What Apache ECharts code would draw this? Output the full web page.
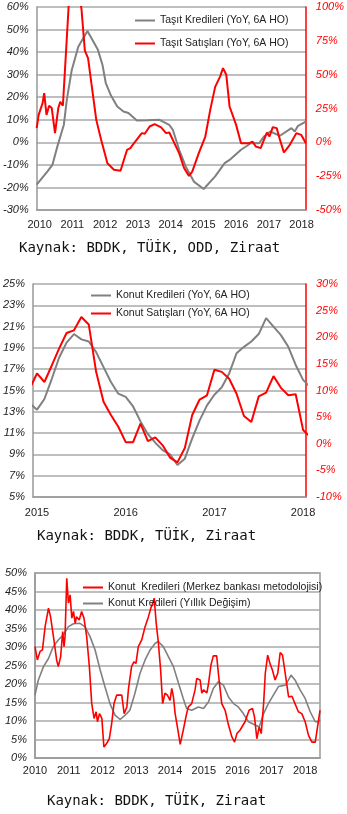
<!DOCTYPE html>
<html><head><meta charset="utf-8">
<script src="https://cdn.jsdelivr.net/npm/echarts@6/dist/echarts.min.js"></script>
<style>html,body{margin:0;padding:0;background:#fff}#c{width:347px;height:814px}</style>
</head><body><div id="c"></div><script>
// ---------- Chart 1: Taşıt (decimal year, %) ----------
const c1LoanName = 'Taşıt Kredileri (YoY, 6A HO)';
const c1SalesName = 'Taşıt Satışları (YoY, 6A HO)';
const c1Loans = [[2009.91,-18.8],[2010.24,-12.9],[2010.39,-10.0],[2010.54,-1.9],[2010.74,7.8],[2010.83,18.8],[2010.98,32.0],[2011.18,42.4],[2011.46,49.4],[2011.78,41.0],[2011.92,34.3],[2012.02,26.3],[2012.17,21.0],[2012.37,15.9],[2012.56,13.7],[2012.71,13.0],[2012.97,9.7],[2013.3,9.8],[2013.66,10.0],[2013.96,7.7],[2014.07,5.5],[2014.26,-3.3],[2014.46,-10.7],[2014.71,-17.4],[2015.01,-20.7],[2015.36,-15.1],[2015.65,-9.2],[2015.80,-7.8],[2016.15,-3.3],[2016.45,-0.4],[2016.70,-0.4],[2016.85,2.6],[2017.04,4.8],[2017.34,2.9],[2017.69,6.3],[2017.79,4.8],[2017.89,7.3],[2018.13,9.2]];
const c1Sales = [[2009.91,10.5],[2009.97,20.3],[2010.09,29.0],[2010.14,36.4],[2010.21,20.3],[2010.29,27.0],[2010.37,25.3],[2010.47,6.8],[2010.57,25.3],[2010.63,30.0],[2010.71,27.0],[2010.78,56.0],[2010.88,98],[2010.95,125],[2011.05,140],[2011.15,120],[2011.28,98],[2011.38,68],[2011.48,62],[2011.58,43.7],[2011.73,16.6],[2011.88,1.8],[2012.07,-15.4],[2012.27,-20.3],[2012.47,-21.0],[2012.67,-5.5],[2012.77,-4.3],[2012.92,0.6],[2013.12,6.8],[2013.21,6.3],[2013.36,11.7],[2013.51,13.4],[2013.71,11.0],[2013.86,6.8],[2013.96,7.3],[2014.11,-0.4],[2014.26,-8],[2014.41,-19],[2014.56,-24.8],[2014.66,-21.6],[2014.86,-8],[2015.06,4.3],[2015.21,24],[2015.36,41],[2015.51,48.6],[2015.60,54.8],[2015.70,49.9],[2015.80,26.5],[2016.00,12.9],[2016.15,-0.6],[2016.40,-0.6],[2016.50,0.6],[2016.60,-3.1],[2016.75,-4.3],[2016.85,1.8],[2016.94,7.2],[2017.02,4.3],[2017.12,11.2],[2017.24,10.5],[2017.34,1.8],[2017.46,-7.5],[2017.64,-1.8],[2017.84,6.8],[2017.99,5.5],[2018.04,6.8],[2018.13,-0.6]];
const c1Years = [2010,2011,2012,2013,2014,2015,2016,2017,2018];

// ---------- Chart 2: Konut (monthly) ----------
const c2LoanName = 'Konut Kredileri (YoY, 6A HO)';
const c2SalesName = 'Konut Satışları (YoY, 6A HO)';
const c2Months = ['2014-12','2015-01','2015-02','2015-03','2015-04','2015-05','2015-06','2015-07','2015-08','2015-09','2015-10','2015-11','2015-12','2016-01','2016-02','2016-03','2016-04','2016-05','2016-06','2016-07','2016-08','2016-09','2016-10','2016-11','2016-12','2017-01','2017-02','2017-03','2017-04','2017-05','2017-06','2017-07','2017-08','2017-09','2017-10','2017-11','2017-12','2018-01','2018-02'];
const c2Loans = [13.8,13.2,14.2,16.1,18.1,19.5,20.3,19.8,19.6,18.6,17.2,15.8,14.7,14.4,13.5,12.1,10.9,10.1,9.4,9.0,8.0,8.6,10.5,12.2,13.6,14.6,15.3,16.6,18.5,19.1,19.6,20.3,21.8,21.0,20.2,19.1,17.4,16.0,15.3];
const c2Sales = [10.3,13.2,11.6,14.7,17.9,20.8,21.3,23.8,22.4,13.5,7.9,5.4,3.2,0.3,0.3,3.8,0.5,1.2,-0.3,-2.6,-3.5,-0.8,5.4,8.3,9.1,13.9,13.5,12.2,9.4,5.2,4.1,8.9,9.6,12.7,10.5,9.1,9.3,2.6,1.3];
const c2Years = [2015,2016,2017,2018];

// ---------- Chart 3: Konut kredileri (decimal year, %) ----------
const c3CbName = 'Konut  Kredileri (Merkez bankası metodolojisi)';
const c3YoyName = 'Konut Kredileri (Yıllık Değişim)';
const c3Cb = [[2010.00,30.1],[2010.07,26.5],[2010.15,28.8],[2010.22,29.2],[2010.30,35.5],[2010.40,40.5],[2010.46,38.2],[2010.56,31.9],[2010.64,26.5],[2010.69,24.7],[2010.76,27.4],[2010.82,34.2],[2010.86,30.1],[2010.89,32.8],[2010.94,48.6],[2010.99,41.9],[2011.04,44.1],[2011.09,37.8],[2011.14,39.6],[2011.19,36.4],[2011.23,38.2],[2011.31,37.3],[2011.38,39.6],[2011.45,37.8],[2011.53,32.8],[2011.61,24.7],[2011.68,14.7],[2011.75,10.7],[2011.81,12.5],[2011.85,9.8],[2011.91,12.0],[2011.98,10.7],[2012.04,3.0],[2012.12,3.9],[2012.20,5.2],[2012.27,9.3],[2012.34,14.7],[2012.42,17.0],[2012.57,17.0],[2012.64,12.0],[2012.72,13.8],[2012.77,18.8],[2012.81,18.4],[2012.86,24.7],[2012.93,26.0],[2012.99,25.6],[2013.06,30.1],[2013.16,31.9],[2013.26,35.5],[2013.36,38.2],[2013.43,40.5],[2013.49,41.9],[2013.53,43.2],[2013.59,36.4],[2013.65,31.5],[2013.72,23.8],[2013.78,14.7],[2013.85,17.5],[2013.92,17.0],[2014.00,15.6],[2014.05,18.8],[2014.10,16.5],[2014.15,12.0],[2014.25,6.6],[2014.30,3.7],[2014.39,7.5],[2014.49,12.0],[2014.54,13.8],[2014.64,14.7],[2014.74,18.4],[2014.79,21.5],[2014.89,21.1],[2014.94,17.5],[2014.99,18.4],[2015.09,17.6],[2015.14,20.2],[2015.21,25.1],[2015.28,27.6],[2015.38,27.6],[2015.43,22.9],[2015.53,14.7],[2015.63,12.9],[2015.73,8.9],[2015.83,5.7],[2015.91,4.3],[2015.98,6.6],[2016.07,7.5],[2016.22,9.8],[2016.34,12.9],[2016.44,13.4],[2016.50,11.1],[2016.57,5.2],[2016.64,8.4],[2016.70,6.6],[2016.77,14.7],[2016.82,22.9],[2016.89,27.8],[2016.96,25.5],[2017.03,23.8],[2017.11,21.1],[2017.19,22.9],[2017.26,28.5],[2017.33,27.8],[2017.41,22.9],[2017.51,16.5],[2017.61,16.7],[2017.70,14.7],[2017.80,12.5],[2017.90,12.0],[2018.00,9.8],[2018.10,6.1],[2018.20,4.3],[2018.30,4.3],[2018.35,4.1],[2018.44,12.9]];
const c3Yoy = [[2010.00,17.0],[2010.10,21.1],[2010.25,24.7],[2010.40,26.9],[2010.54,30.1],[2010.69,31.9],[2010.84,33.3],[2010.99,35.5],[2011.14,36.3],[2011.33,36.4],[2011.48,35.5],[2011.63,32.8],[2011.78,29.2],[2011.93,23.8],[2012.07,19.3],[2012.22,14.7],[2012.37,11.6],[2012.52,10.4],[2012.67,11.6],[2012.81,12.9],[2012.96,17.5],[2013.11,22.9],[2013.26,26.5],[2013.41,29.2],[2013.56,31.0],[2013.65,31.5],[2013.80,30.1],[2013.95,27.4],[2014.10,24.7],[2014.25,20.2],[2014.39,16.1],[2014.49,13.4],[2014.64,12.9],[2014.84,13.8],[2014.99,13.4],[2015.14,15.2],[2015.28,18.8],[2015.43,20.6],[2015.58,19.7],[2015.73,16.5],[2015.88,14.7],[2016.02,13.8],[2016.17,12.0],[2016.32,9.8],[2016.52,8.9],[2016.64,8.4],[2016.77,12.0],[2016.91,14.7],[2017.06,17.0],[2017.21,19.3],[2017.41,19.7],[2017.51,21.1],[2017.58,22.4],[2017.70,21.1],[2017.85,18.4],[2018.00,16.1],[2018.15,12.5],[2018.30,9.8],[2018.40,9.8],[2018.44,10.3]];
const c3Years = [2010,2011,2012,2013,2014,2015,2016,2017,2018];

const sourceTexts = ['Kaynak: BDDK, TÜİK, ODD, Ziraat','Kaynak: BDDK, TÜİK, Ziraat','Kaynak: BDDK, TÜİK, Ziraat'];

// ---------- helpers ----------
const FONT = '"Liberation Sans", Arial, sans-serif';
const GRIDC = '#a9a9a9';
const GRAY = '#808080';
const RED = '#ff0000';
const ym = s => { const p = s.split('-').map(Number); return p[0] + (p[1]-1)/12; };
const c2LoansXY = c2Months.map((m,i)=>[ym(m), c2Loans[i]]);
const c2SalesXY = c2Months.map((m,i)=>[ym(m), c2Sales[i]]);

function xAx(gi, min, max, years, margin){
  return {type:'value', gridIndex:gi, min:min, max:max,
    axisLine:{show:true, onZero:false, lineStyle:{color:'#999', width:1.5}},
    axisTick:{show:false}, splitLine:{show:false},
    axisLabel:{customValues:years, formatter:v=>String(Math.round(v)), color:'#222', fontFamily:FONT, fontSize:11, margin:margin}};
}
function yAx(gi, min, max, interval, pos, color, split, lineColor){
  return {type:'value', gridIndex:gi, position:pos, min:min, max:max, interval:interval,
    axisLine:{show:true, lineStyle:{color:lineColor, width:1.5}}, axisTick:{show:false},
    splitLine:{show:split, lineStyle:{color:GRIDC, width:1.5}},
    axisLabel:{formatter:v=>v+'%', color:color, fontFamily:FONT, fontSize:11, fontStyle:'italic', margin:pos==='left'?8:10}};
}
function line(name, data, xi, yi, color, w){
  return {name:name, type:'line', data:data, xAxisIndex:xi, yAxisIndex:yi, symbol:'none', showSymbol:false,
    lineStyle:{color:color, width:w}, itemStyle:{color:color}, clip:true, animation:false, z:color===RED?3:2};
}
function leg(names, left, top, gap){
  return {data:names, orient:'vertical', left:left, top:top, icon:'rect', itemWidth:20, itemHeight:2, itemGap:gap,
    selectedMode:false, textStyle:{fontFamily:FONT, fontSize:10.5, color:'#222'}};
}

const option = {
  animation:false,
  grid:[
    {left:32, top:7, width:276, height:203},
    {left:33, top:284, width:273, height:213},
    {left:35, top:573, width:285, height:185, show:true, borderColor:'#999', borderWidth:1.5}
  ],
  xAxis:[
    xAx(0, 2009.91, 2018.13, c1Years, 9),
    xAx(1, 2014.955, 2018.033, c2Years, 10),
    xAx(2, 2010.0, 2018.44, c3Years, 7)
  ],
  yAxis:[
    yAx(0, -30, 60, 10, 'left', '#222', true, '#999'),
    yAx(0, -50, 100, 25, 'right', RED, false, RED),
    yAx(1, 5, 25, 2, 'left', '#222', true, '#999'),
    yAx(1, -10, 30, 5, 'right', RED, false, RED),
    yAx(2, 0, 50, 5, 'left', '#222', true, '#999')
  ],
  legend:[
    leg([c1LoanName, c1SalesName], 130, 10, 12),
    leg([c2LoanName, c2SalesName], 86, 285, 7),
    leg([c3CbName, c3YoyName], 78, 577, 5)
  ],
  series:[
    line(c1LoanName, c1Loans, 0, 0, GRAY, 2),
    line(c1SalesName, c1Sales, 0, 1, RED, 2),
    line(c2LoanName, c2LoansXY, 1, 2, GRAY, 2),
    line(c2SalesName, c2SalesXY, 1, 3, RED, 2),
    line(c3YoyName, c3Yoy, 2, 4, GRAY, 1.6),
    line(c3CbName, c3Cb, 2, 4, RED, 1.6)
  ],
  graphic:[
    {type:'text', left:19, top:241, style:{text:sourceTexts[0], font:'14px "DejaVu Sans Mono", monospace', fill:'#111'}},
    {type:'text', left:37, top:529, style:{text:sourceTexts[1], font:'14px "DejaVu Sans Mono", monospace', fill:'#111'}},
    {type:'text', left:47, top:794, style:{text:sourceTexts[2], font:'14px "DejaVu Sans Mono", monospace', fill:'#111'}}
  ]
};
const chart = echarts.init(document.getElementById('c'), null, {renderer:'canvas'});
chart.setOption(option);
</script></body></html>
